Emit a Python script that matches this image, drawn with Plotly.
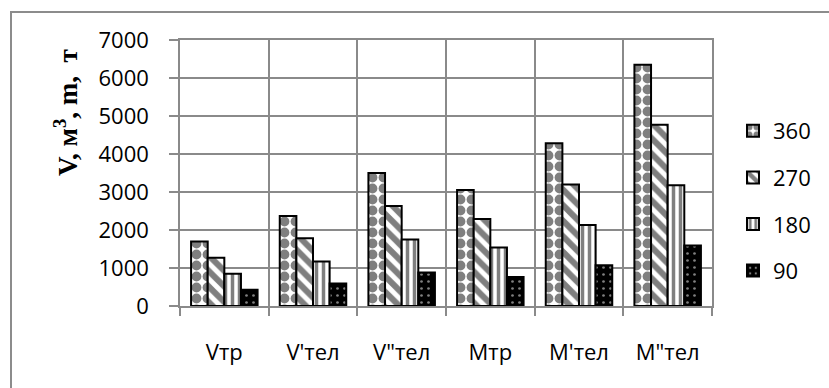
import plotly.graph_objects as go

categories = ["Vтр", "V'тел", 'V"тел', "Mтр", "M'тел", 'M"тел']
series_names = ["360", "270", "180", "90"]
values_360 = [1700, 2370, 3500, 3050, 4280, 6350]
values_270 = [1270, 1780, 2630, 2290, 3200, 4770]
values_180 = [850, 1170, 1750, 1540, 2130, 3180]
values_90 = [425, 590, 880, 760, 1070, 1590]
y_tick_values = [0, 1000, 2000, 3000, 4000, 5000, 6000, 7000]
y_title = "<b>V, м<sup>3</sup>, m,  т</b>"

series_values = [values_360, values_270, values_180, values_90]
patterns = [
    dict(shape=".", fgcolor="black", bgcolor="white", size=11, solidity=0.62),
    dict(shape="\\", fgcolor="black", bgcolor="white", size=11, solidity=0.55),
    dict(shape="|", fgcolor="black", bgcolor="white", size=7, solidity=0.5),
    dict(shape=".", fgcolor="white", bgcolor="black", size=7, solidity=0.12),
]

W, H = 829, 388
L, R, T, B = 180, 117, 40, 82
pw, ph = W - L - R, H - T - B

def px_x(x):
    return (x - L) / pw

def px_y(y):
    return (H - B - y) / ph

fig = go.Figure()
for name, vals, pat in zip(series_names, series_values, patterns):
    fig.add_trace(go.Bar(
        x=categories, y=vals, name=name, legendgroup=name,
        marker=dict(color="white", pattern=pat, line=dict(color="black", width=2)),
    ))

grid = "#8a8a8a"
font_main = dict(family="Open Sans", size=22, color="black")
fig.update_layout(
    width=W, height=H,
    margin=dict(l=L, r=R, t=T, b=B, autoexpand=False),
    paper_bgcolor="white", plot_bgcolor="white",
    barmode="group", bargap=0.25, bargroupgap=0,
    font=font_main,
    showlegend=True,
    legend=dict(x=px_x(733), y=px_y(110), xanchor="left", yanchor="top",
                font=dict(family="Open Sans", size=22, color="black"),
                tracegroupgap=15, bgcolor="rgba(0,0,0,0)"),
    xaxis=dict(showgrid=True, gridcolor=grid, gridwidth=1.5, tickson="boundaries",
               ticks="outside", ticklen=8, tickcolor=grid, tickwidth=1.5,
               showline=True, linecolor=grid, linewidth=1.5, mirror=True,
               ticklabelstandoff=26, tickfont=font_main, automargin=False),
    yaxis=dict(range=[0, 7000], tickvals=y_tick_values, showgrid=True, gridcolor=grid,
               gridwidth=1.5, ticks="outside", ticklen=9, tickcolor=grid, tickwidth=1.5,
               showline=True, linecolor=grid, linewidth=1.5, mirror=True,
               zeroline=False, tickfont=font_main, ticklabelstandoff=16, automargin=False),
    annotations=[dict(text=y_title, textangle=-90, xref="paper", yref="paper",
                      x=px_x(66), y=px_y(113), showarrow=False,
                      font=dict(family="Liberation Serif", size=27, color="black"),
                      xanchor="center", yanchor="middle")],
    shapes=[dict(type="path", xref="paper", yref="paper",
                 path=f"M {px_x(11)},{px_y(392)} L {px_x(11)},{px_y(12)} L {px_x(832)},{px_y(12)}",
                 line=dict(color="#8c8c8c", width=2))],
)

fig.write_html("out.html", config={"displayModeBar": False},
               post_script="document.body.style.margin='0';document.body.style.overflow='hidden';")
